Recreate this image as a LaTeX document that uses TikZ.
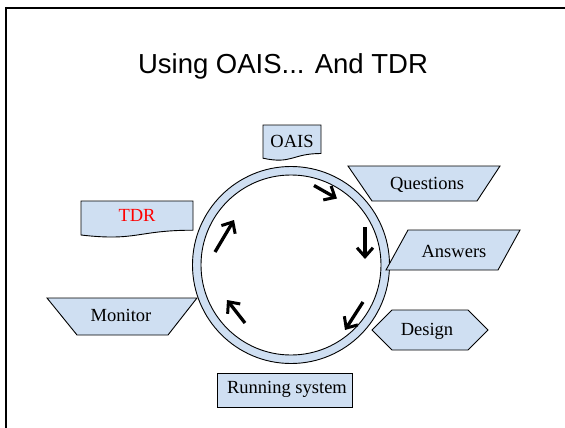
\documentclass[tikz,border=0pt]{standalone}
\usepackage{fontspec}
\setmainfont{Liberation Serif}
\newfontfamily\titlefont{Liberation Sans}
\usetikzlibrary{arrows.meta}
\definecolor{paleblue}{RGB}{207,223,242}
\tikzset{
  shapebox/.style={draw=black, line width=0.9pt, fill=paleblue, line join=miter},
  lbl/.style={anchor=base, inner sep=0pt, font=\fontsize{18.5}{20}\selectfont},
  cyclearrow/.style={line width=3.3pt, -{Straight Barb[length=9pt, width=16pt, line width=3pt]}},
  frameline/.style={line width=2pt, black}
}
\begin{document}
\begin{tikzpicture}[x=1pt, y=-1pt]
\useasboundingbox (0,0) rectangle (565,428);

% slide frame
\draw[frameline] (5,8) -- (565,8);
\draw[frameline] (6,7) -- (6,428);

% title
\node[anchor=base, inner sep=0pt, font=\titlefont\fontsize{27.5}{30}\selectfont] (title) at (283,74) {Using OAIS... And TDR};

% ring
\fill[paleblue, even odd rule] (291,265) circle[radius=98.5] (291,265) circle[radius=90];
\draw[line width=0.9pt] (291,265) circle[radius=98.5];
\draw[line width=0.9pt] (291,265) circle[radius=90];

% OAIS document shape
\draw[shapebox] (263,125) -- (321,125) -- (321,153.5)
  .. controls (292,153.5) and (292,164.5) .. (263,158.2) -- cycle;
\node[lbl] (oais) at (292,147) {OAIS};

% TDR document shape
\draw[shapebox] (81,201) -- (193,201) -- (193,230.2)
  .. controls (137,230.2) and (137,241.5) .. (81,235) -- cycle;
\node[lbl, text=red] (tdr) at (137,221.5) {TDR};

% Questions trapezium
\draw[shapebox] (348,166) -- (500,166) -- (477,201) -- (372,201) -- cycle;
\node[lbl] (questions) at (427,189.5) {Questions};

% Answers parallelogram
\draw[shapebox] (408,230) -- (520,230) -- (498,270) -- (386,270) -- cycle;
\node[lbl] (answers) at (454,257) {Answers};

% Design hexagon
\draw[shapebox] (372,330) -- (392,310) -- (468,310) -- (488,330) -- (468,350) -- (392,350) -- cycle;
\node[lbl] (design) at (427,335.5) {Design};

% Monitor trapezium
\draw[shapebox] (47,298) -- (197,298) -- (168,335) -- (77,335) -- cycle;
\node[lbl] (monitor) at (121,321.5) {Monitor};

% Running system box
\draw[shapebox] (217,373) rectangle (352,407);
\node[lbl] (running) at (287,393) {Running system};

% cycle arrows inside the ring
\coordinate (a1s) at (314,185.5); \coordinate (a1e) at (337,198.5);
\coordinate (a2s) at (365,227); \coordinate (a2e) at (365,259);
\coordinate (a3s) at (363,302); \coordinate (a3e) at (345,330);
\coordinate (a4s) at (245,323); \coordinate (a4e) at (227,300);
\coordinate (a5s) at (215,252); \coordinate (a5e) at (234,220);
\draw[cyclearrow] (a1s) -- (a1e);
\draw[cyclearrow] (a2s) -- (a2e);
\draw[cyclearrow] (a3s) -- (a3e);
\draw[cyclearrow] (a4s) -- (a4e);
\draw[cyclearrow] (a5s) -- (a5e);
\end{tikzpicture}
\end{document}
